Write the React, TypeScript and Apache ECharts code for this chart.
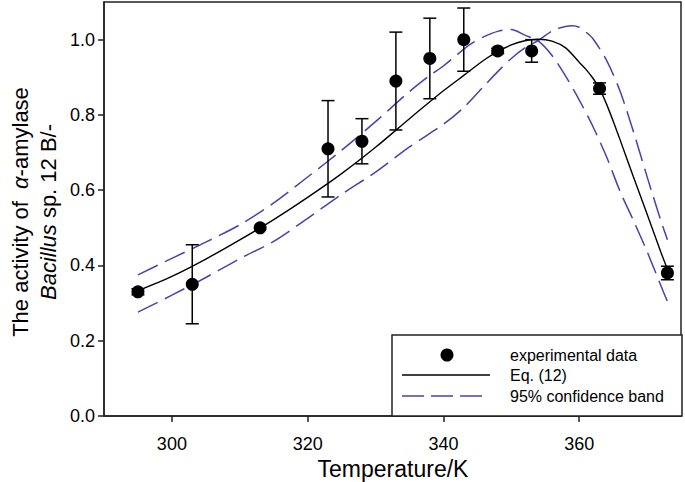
import React, { useEffect, useRef } from "react";
import * as echarts from "echarts";

// Experimental data
const temps = [295, 303, 313, 323, 328, 333, 338, 343, 348, 353, 363, 373];
const activity = [0.33, 0.35, 0.5, 0.71, 0.73, 0.89, 0.95, 1.0, 0.97, 0.97, 0.87, 0.38];
const errors = [0.008, 0.105, 0, 0.128, 0.06, 0.13, 0.107, 0.084, 0.007, 0.03, 0.015, 0.018];

// Fitted curve Eq. (12)
const fitT = [295, 300, 305, 310, 315, 320, 325, 330, 335, 340, 343, 346, 348, 350, 352, 354, 356, 358, 360, 361, 362, 363, 364, 365, 366, 368, 370, 372, 373];
const fitY = [0.333, 0.371, 0.417, 0.468, 0.522, 0.581, 0.644, 0.714, 0.79, 0.864, 0.905, 0.946, 0.968, 0.986, 0.997, 1.001, 0.996, 0.978, 0.94, 0.921, 0.898, 0.87, 0.83, 0.784, 0.735, 0.635, 0.537, 0.437, 0.39];

// 95% confidence band (two branches)
const bandAT = [295, 300, 305, 310, 315, 320, 325, 330, 335, 338, 340, 342, 344, 346, 348, 350, 352, 354, 356, 358, 360, 362, 364, 366, 368, 370, 372, 373];
const bandAY = [0.375, 0.419, 0.462, 0.508, 0.566, 0.635, 0.706, 0.782, 0.862, 0.905, 0.93, 0.96, 0.988, 1.008, 1.022, 1.027, 1.012, 0.996, 0.958, 0.903, 0.84, 0.77, 0.69, 0.598, 0.519, 0.437, 0.348, 0.304];
const bandBT = [295, 300, 305, 310, 315, 320, 325, 330, 335, 340, 343, 346, 348, 350, 352, 354, 356, 358, 359, 360, 361, 362, 364, 366, 368, 370, 372, 373];
const bandBY = [0.276, 0.321, 0.368, 0.418, 0.464, 0.525, 0.589, 0.648, 0.715, 0.775, 0.82, 0.877, 0.915, 0.95, 0.978, 0.998, 1.023, 1.035, 1.037, 1.033, 1.02, 1.003, 0.946, 0.864, 0.755, 0.636, 0.521, 0.468];

// Axis ticks
const xTicks = [300, 320, 340, 360];
const yTicks = [0, 0.2, 0.4, 0.6, 0.8, 1.0];

const FONT = "'Liberation Sans', Arial, sans-serif";
const BAND_COLOR = "#4a40b0";

export default function App() {
  const ref = useRef<HTMLDivElement>(null);

  useEffect(() => {
    if (!ref.current) return;
    const chart = echarts.init(ref.current, null, { renderer: "svg" });

    const pts = temps.map((t, i) => [t, activity[i]]);
    const errData = temps
      .map((t, i) => [t, activity[i] - errors[i], activity[i] + errors[i], errors[i]])
      .filter((d) => d[3] > 0);

    const option: any = {
      animation: false,
      backgroundColor: "#fff",
      grid: {
        left: 104,
        top: 2,
        right: 4,
        bottom: 66,
        show: true,
        borderColor: "#222",
        borderWidth: 1.5,
        backgroundColor: "transparent",
      },
      xAxis: {
        type: "value",
        min: 290,
        max: 375,
        axisLine: { show: true, lineStyle: { color: "#222", width: 1.5 } },
        axisTick: {
          show: true,
          inside: false,
          length: 6,
          customValues: xTicks,
          lineStyle: { color: "#222", width: 1.5 },
        },
        axisLabel: {
          customValues: xTicks,
          fontSize: 18,
          fontFamily: FONT,
          color: "#000",
          margin: 19,
        },
        splitLine: { show: false },
      },
      yAxis: {
        type: "value",
        min: 0,
        max: 1.1,
        axisLine: { show: true, lineStyle: { color: "#222", width: 1.5 } },
        axisTick: {
          show: true,
          inside: false,
          length: 6,
          customValues: yTicks,
          lineStyle: { color: "#222", width: 1.5 },
        },
        axisLabel: {
          customValues: yTicks,
          formatter: (v: number) => v.toFixed(1),
          fontSize: 18,
          fontFamily: FONT,
          color: "#000",
          margin: 9,
        },
        splitLine: { show: false },
      },
      series: [
        {
          name: "band A",
          type: "line",
          data: bandAT.map((t, i) => [t, bandAY[i]]),
          smooth: 0.3,
          showSymbol: false,
          lineStyle: { color: BAND_COLOR, width: 1.5, type: [22, 8] },
          z: 2,
        },
        {
          name: "band B",
          type: "line",
          data: bandBT.map((t, i) => [t, bandBY[i]]),
          smooth: 0.3,
          showSymbol: false,
          lineStyle: { color: BAND_COLOR, width: 1.5, type: [22, 8] },
          z: 2,
        },
        {
          name: "Eq. (12)",
          type: "line",
          data: fitT.map((t, i) => [t, fitY[i]]),
          smooth: 0.3,
          showSymbol: false,
          lineStyle: { color: "#000", width: 1.4 },
          z: 3,
        },
        {
          name: "error",
          type: "custom",
          data: errData,
          encode: { x: 0, y: [1, 2] },
          renderItem: (params: any, api: any) => {
            const x = api.value(0);
            const lo = api.value(1);
            const hi = api.value(2);
            const p1 = api.coord([x, lo]);
            const p2 = api.coord([x, hi]);
            const w = 6.5;
            const style = { stroke: "#000", lineWidth: 1.5 };
            return {
              type: "group",
              children: [
                { type: "line", shape: { x1: p1[0], y1: p1[1], x2: p2[0], y2: p2[1] }, style },
                { type: "line", shape: { x1: p1[0] - w, y1: p1[1], x2: p1[0] + w, y2: p1[1] }, style },
                { type: "line", shape: { x1: p2[0] - w, y1: p2[1], x2: p2[0] + w, y2: p2[1] }, style },
              ],
            };
          },
          z: 4,
        },
        {
          name: "experimental data",
          type: "scatter",
          data: pts,
          symbol: "circle",
          symbolSize: 13,
          itemStyle: { color: "#000", opacity: 1 },
          z: 5,
        },
      ],
      graphic: [
        {
          type: "text",
          x: 20,
          y: 212,
          rotation: Math.PI / 2,
          style: {
            text: "The activity of  {a|α}-amylase",
            fontSize: 22,
            fontFamily: FONT,
            fill: "#000",
            align: "center",
            verticalAlign: "middle",
            rich: {
              a: { fontSize: 22, fontFamily: FONT, fontStyle: "italic", fill: "#000" },
            },
          },
        },
        {
          type: "text",
          x: 48,
          y: 212,
          rotation: Math.PI / 2,
          style: {
            text: "{i|Bacillus} sp. 12 B/-",
            fontSize: 22,
            fontFamily: FONT,
            fill: "#000",
            align: "center",
            verticalAlign: "middle",
            rich: {
              i: { fontSize: 22, fontFamily: FONT, fontStyle: "italic", fill: "#000" },
            },
          },
        },
        {
          type: "text",
          x: 393,
          y: 469,
          style: {
            text: "Temperature/K",
            fontSize: 23,
            fontFamily: FONT,
            fill: "#000",
            align: "center",
            verticalAlign: "middle",
          },
        },
        // Legend box
        {
          type: "rect",
          shape: { x: 392, y: 335, width: 290, height: 81 },
          style: { fill: "#fff", stroke: "#222", lineWidth: 1.5 },
          z: 10,
        },
        {
          type: "circle",
          shape: { cx: 447, cy: 355, r: 6.5 },
          style: { fill: "#000" },
          z: 11,
        },
        {
          type: "line",
          shape: { x1: 402, y1: 375, x2: 490, y2: 375 },
          style: { stroke: "#000", lineWidth: 1.4 },
          z: 11,
        },
        {
          type: "line",
          shape: { x1: 402, y1: 396, x2: 483, y2: 396 },
          style: { stroke: BAND_COLOR, lineWidth: 1.5, lineDash: [22, 7] },
          z: 11,
        },
        {
          type: "text",
          x: 510,
          y: 355,
          style: { text: "experimental data", fontSize: 16, fontFamily: FONT, fill: "#000", verticalAlign: "middle" },
          z: 11,
        },
        {
          type: "text",
          x: 510,
          y: 375,
          style: { text: "Eq. (12)", fontSize: 16, fontFamily: FONT, fill: "#000", verticalAlign: "middle" },
          z: 11,
        },
        {
          type: "text",
          x: 510,
          y: 396,
          style: { text: "95% confidence band", fontSize: 16, fontFamily: FONT, fill: "#000", verticalAlign: "middle" },
          z: 11,
        },
      ],
    };

    chart.setOption(option);
    return () => chart.dispose();
  }, []);

  return (
    <div
      ref={ref}
      style={{ position: "fixed", left: 0, top: 0, width: 685, height: 482 }}
    />
  );
}
